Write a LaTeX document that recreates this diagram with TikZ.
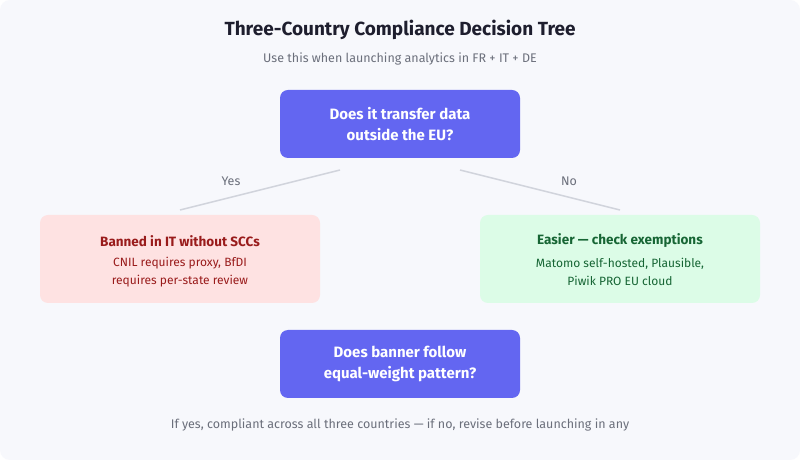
\documentclass[tikz,border=0pt]{standalone}
\usepackage{fontspec}
\setmainfont{Fira Sans}
\definecolor{bg}{HTML}{F7F8FC}
\definecolor{indigo}{HTML}{6366F1}
\definecolor{ink}{HTML}{1E1E2E}
\definecolor{muted}{HTML}{6B6F7B}
\definecolor{conn}{HTML}{D1D4DC}
\definecolor{redfill}{HTML}{FEE2E2}
\definecolor{redtext}{HTML}{991B1B}
\definecolor{greenfill}{HTML}{DCFCE7}
\definecolor{greentext}{HTML}{166534}
\begin{document}
\begin{tikzpicture}[x=1pt,y=1pt,
  qbox/.style={fill=indigo,rounded corners=8pt,minimum width=240pt,minimum height=68pt,align=center,text=white,font=\fontsize{15}{21}\selectfont\bfseries},
  obox/.style={rounded corners=8pt,minimum width=280pt,minimum height=88pt},
  conline/.style={draw=conn,line width=1.5pt},
  lbl/.style={text=muted,font=\fontsize{12}{14}\selectfont}]
\useasboundingbox (0,0) rectangle (800,460);
\fill[white] (0,0) rectangle (800,460);
\fill[bg,rounded corners=10pt] (0,0) rectangle (800,460);
\node[text=ink,font=\fontsize{19}{22}\selectfont\bfseries] (title) at (400,430) {Three-Country Compliance Decision Tree};
\node[lbl,font=\fontsize{12.5}{14}\selectfont] (sub) at (400,401) {Use this when launching analytics in FR + IT + DE};
\node[qbox] (q1) at (400,336) {Does it transfer data\\outside the EU?};
\node[obox,fill=redfill] (left) at (180,201) {};
\node[obox,fill=greenfill] (right) at (620,201) {};
\node[text=redtext,font=\fontsize{13.5}{16}\selectfont\bfseries] (lt) at (180,219) {Banned in IT without SCCs};
\node[text=redtext,align=center,font=\fontsize{12}{18}\selectfont] (lb) at (180,188) {CNIL requires proxy, BfDI\\requires per-state review};
\node[text=greentext,font=\fontsize{13.5}{16}\selectfont\bfseries] (rt) at (620,219) {Easier — check exemptions};
\node[text=greentext,align=center,font=\fontsize{12}{18}\selectfont] (rb) at (620,188) {Matomo self-hosted, Plausible,\\Piwik PRO EU cloud};
\coordinate (a1) at (340,290); \coordinate (a2) at (180,250);
\coordinate (b1) at (460,290); \coordinate (b2) at (620,250);
\draw[conline] (a1) -- (a2);
\draw[conline] (b1) -- (b2);
\node[lbl,font=\fontsize{12.5}{14}\selectfont] (yes) at (231,279) {Yes};
\node[lbl,font=\fontsize{12.5}{14}\selectfont] (no) at (569,279) {No};
\node[qbox] (q2) at (400,96) {Does banner follow\\equal-weight pattern?};
\node[lbl,font=\fontsize{12.5}{14}\selectfont] (foot) at (400,35) {If yes, compliant across all three countries — if no, revise before launching in any};
\end{tikzpicture}
\end{document}
